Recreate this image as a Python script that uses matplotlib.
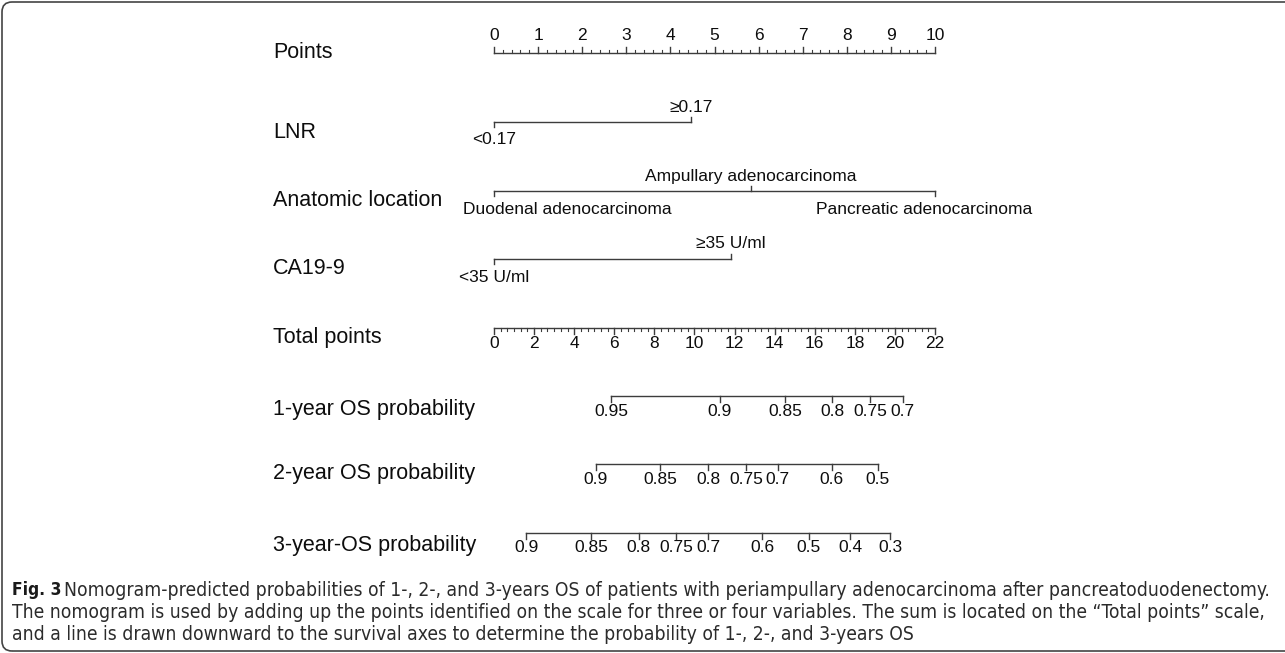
import matplotlib.pyplot as plt
from matplotlib.patches import FancyBboxPatch
from matplotlib.transforms import IdentityTransform

# ---- data ----
points_ticks = list(range(0, 11))
total_ticks = list(range(0, 23, 2))
total_max = 22

lnr_labels = ['<0.17', '≥0.17']
lnr_points = [0, 4.47]

loc_labels = ['Duodenal adenocarcinoma', 'Ampullary adenocarcinoma', 'Pancreatic adenocarcinoma']
loc_points = [0, 5.82, 10]

ca_labels = ['<35 U/ml', '≥35 U/ml']
ca_points = [0, 5.37]

# survival scales: probability label and its position on the total points scale
os1_labels = ['0.95', '0.9', '0.85', '0.8', '0.75', '0.7']
os1_total = [5.86, 11.25, 14.53, 16.87, 18.76, 20.38]

os2_labels = ['0.9', '0.85', '0.8', '0.75', '0.7', '0.6', '0.5']
os2_total = [5.07, 8.30, 10.69, 12.58, 14.16, 16.85, 19.14]

os3_labels = ['0.9', '0.85', '0.8', '0.75', '0.7', '0.6', '0.5', '0.4', '0.3']
os3_total = [1.61, 4.83, 7.22, 9.10, 10.69, 13.37, 15.69, 17.76, 19.77]

caption_lines = [
    'Nomogram-predicted probabilities of 1-, 2-, and 3-years OS of patients with periampullary adenocarcinoma after pancreatoduodenectomy.',
    'The nomogram is used by adding up the points identified on the scale for three or four variables. The sum is located on the \u201cTotal points\u201d scale,',
    'and a line is drawn downward to the survival axes to determine the probability of 1-, 2-, and 3-years OS',
]

# ---- layout ----
W, H = 1285, 653
x0, px_per_pt = 494, 44.1
label_x = 273
LC = '#3c3c3c'
TC = '#0d0d0d'
FONT = ['Liberation Sans', 'DejaVu Sans']
LAB_FS, TICK_FS = 15.5, 12.5
CAP_FS = 13.9

plt.rcParams['font.family'] = FONT

fig = plt.figure(figsize=(W / 100, H / 100), dpi=100)
ax = fig.add_axes([0, 0, 1, 1])
ax.set_xlim(-x0 / px_per_pt, (W - x0) / px_per_pt)
ax.set_ylim(H, 0)
ax.axis('off')

lab_x = (label_x - x0) / px_per_pt
tot = 10 / total_max  # total points -> points units


def row_label(y, text):
    ax.text(lab_x, y, text, fontsize=LAB_FS, color=TC, va='center', ha='left')


def scale(y, pos, labels, minor=None, up=False, lab_below=True, tick=6, mtick=3):
    s = -1 if up else 1
    ax.plot([pos[0], pos[-1]], [y, y], color=LC, lw=1.0)
    for p in pos:
        ax.plot([p, p], [y, y + s * tick], color=LC, lw=1.0)
    if minor is not None:
        for p in minor:
            ax.plot([p, p], [y, y + s * mtick], color=LC, lw=0.8)
    off = 15 if lab_below else -18
    for p, t in zip(pos, labels):
        ax.text(p, y + off, t, fontsize=TICK_FS, color=TC, ha='center', va='center')


def category(y, pos, labels, shifts=None):
    ax.plot([pos[0], pos[-1]], [y, y], color=LC, lw=1.0)
    for i, (p, t) in enumerate(zip(pos, labels)):
        below = i % 2 == 0
        s = 1 if below else -1
        ax.plot([p, p], [y, y + s * 5], color=LC, lw=1.0)
        xp, ha = p, 'center'
        if shifts and shifts[i]:
            xp, ha = shifts[i]
        ax.text(xp, y + (18 if below else -15), t, fontsize=TICK_FS, color=TC,
                ha=ha, va='center')


# Points
row_label(52, 'Points')
pt_minor = [i / 5 for i in range(51) if i % 5]
scale(53, points_ticks, [str(v) for v in points_ticks], minor=pt_minor, up=True,
      lab_below=False, tick=6, mtick=3)

# LNR
row_label(133, 'LNR')
category(122, lnr_points, lnr_labels)

# Anatomic location
row_label(200, 'Anatomic location')
category(191, loc_points, loc_labels,
         shifts=[((463 - x0) / px_per_pt, 'left'), None, ((1032 - x0) / px_per_pt, 'right')])

# CA19-9
row_label(268, 'CA19-9')
category(259, ca_points, ca_labels)

# Total points
row_label(337, 'Total points')
tp_minor = [i / 3 * tot for i in range(total_max * 3 + 1) if i % 6]
scale(328, [v * tot for v in total_ticks], [str(v) for v in total_ticks],
      minor=tp_minor, tick=6, mtick=3)

# survival axes
row_label(409, '1-year OS probability')
scale(396, [v * tot for v in os1_total], os1_labels)
row_label(474, '2-year OS probability')
scale(464, [v * tot for v in os2_total], os2_labels)
row_label(546, '3-year-OS probability')
scale(533, [v * tot for v in os3_total], os3_labels)

# caption
fig.text(12 / W, 1 - 590 / H, 'Fig. 3', fontsize=12.5, fontweight='bold', color='#1a1a1a',
         family='DejaVu Sans', fontstretch='condensed', va='center', ha='left')
for i, line in enumerate(caption_lines):
    x = 64 if i == 0 else 12
    fig.text(x / W, 1 - (590 + 22 * i) / H, line, fontsize=CAP_FS, color='#2b2b2b',
             family='DejaVu Sans', fontstretch='condensed', va='center', ha='left')

# rounded frame
frame = FancyBboxPatch((2, 2), W + 40, H - 4, boxstyle='round,pad=0,rounding_size=10',
                       transform=IdentityTransform(), fill=False, ec='#444444', lw=1.2)
fig.patches.append(frame)

fig.savefig('out.png', dpi=100)
